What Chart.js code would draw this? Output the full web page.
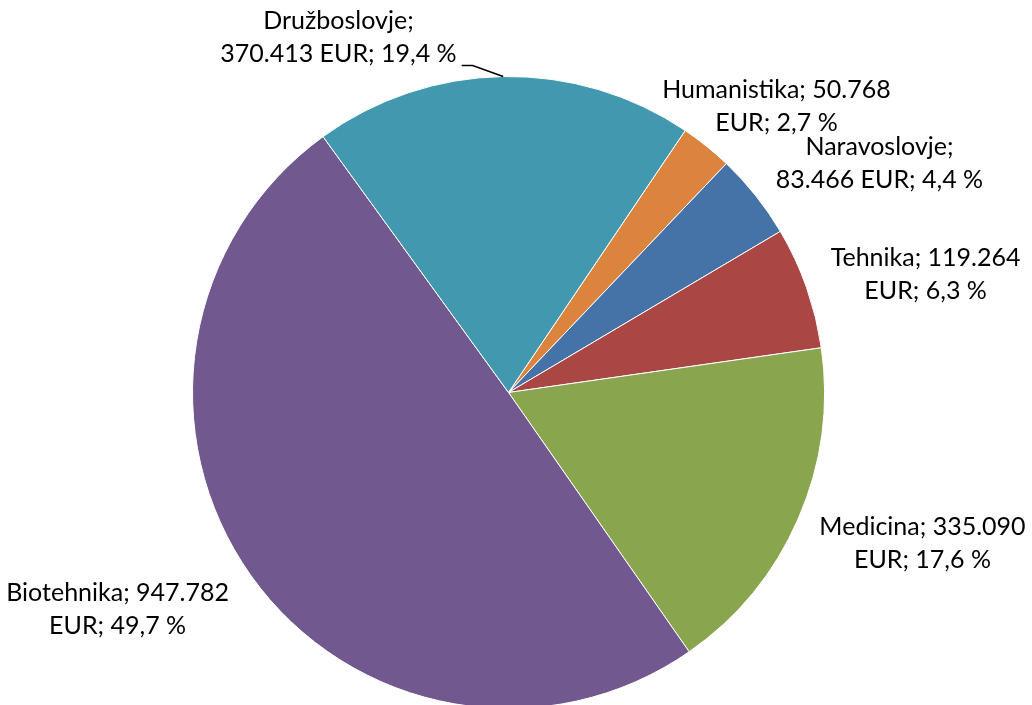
<!DOCTYPE html>
<html>
<head>
<meta charset="utf-8">
<script src="https://cdn.jsdelivr.net/npm/chart.js@4/dist/chart.umd.min.js"></script>
<style>
  html, body { margin: 0; padding: 0; background: #fff; overflow: hidden; }
  #wrap { width: 1032px; height: 712px; }
</style>
</head>
<body>
<div id="wrap"><canvas id="pie"></canvas></div>
<script>
// data (clockwise order as drawn)
const categories = ['Humanistika', 'Naravoslovje', 'Tehnika', 'Medicina', 'Biotehnika', 'Družboslovje'];
const amounts = [50768, 83466, 119264, 335090, 947782, 370413];
const sliceColors = ['#DB843D', '#4572A7', '#AA4643', '#89A54E', '#71588F', '#4198AF'];

// label block centres, in units of the pie radius from the pie centre
const labelSpots = [[0.848, -0.905], [1.174, -0.726], [1.320, -0.373], [1.310, 0.479], [-1.237, 0.687], [-0.538, -1.125]];
// how the text of each label breaks into two lines
const labelBreaks = ['value', 'name', 'value', 'eur', 'eur', 'name'];

function fmtAmount(v) {
  return String(v).replace(/\B(?=(\d{3})+(?!\d))/g, '.');
}

const total = amounts.reduce((a, b) => a + b, 0);

function labelLines(i) {
  const pct = (amounts[i] / total * 100).toFixed(1).replace('.', ',') + ' %';
  const name = categories[i];
  const val = fmtAmount(amounts[i]);
  if (labelBreaks[i] === 'name') return [name + ';', val + ' EUR; ' + pct];
  return [name + '; ' + val, 'EUR; ' + pct];
}

const labelPlugin = {
  id: 'sliceLabels',
  afterDatasetsDraw(chart) {
    const ctx = chart.ctx;
    const arcs = chart.getDatasetMeta(0).data;
    ctx.save();
    ctx.font = '25px Lato';
    ctx.fillStyle = '#000';
    ctx.textAlign = 'center';
    ctx.textBaseline = 'middle';
    arcs.forEach((arc, i) => {
      const r = arc.outerRadius;
      const cx = arc.x + labelSpots[i][0] * r;
      const cy = arc.y + labelSpots[i][1] * r;
      const lines = labelLines(i);
      ctx.fillText(lines[0], cx, cy - 16.5);
      ctx.fillText(lines[1], cx, cy + 16.5);

      // leader line for the label that sits away from its slice
      if (categories[i] === 'Družboslovje') {
        const mid = (arc.startAngle + arc.endAngle) / 2;
        const w = ctx.measureText(lines[1]).width;
        const sx = cx + w / 2 + 5;
        const sy = cy + 28.5;
        ctx.beginPath();
        ctx.strokeStyle = '#000';
        ctx.lineWidth = 1.5;
        ctx.moveTo(sx, sy);
        ctx.lineTo(sx + 11, sy);
        ctx.lineTo(arc.x + Math.cos(mid) * r, arc.y + Math.sin(mid) * r);
        ctx.stroke();
      }
    });
    ctx.restore();
  }
};

new Chart(document.getElementById('pie'), {
  type: 'pie',
  data: {
    labels: categories,
    datasets: [{
      data: amounts,
      backgroundColor: sliceColors,
      borderColor: '#ffffff',
      borderWidth: 1
    }]
  },
  options: {
    responsive: true,
    maintainAspectRatio: false,
    animation: false,
    rotation: 34,
    layout: { padding: { top: 76, bottom: 3, left: 192, right: 207 } },
    plugins: {
      legend: { display: false },
      tooltip: { enabled: false }
    }
  },
  plugins: [labelPlugin]
});
</script>
</body>
</html>
